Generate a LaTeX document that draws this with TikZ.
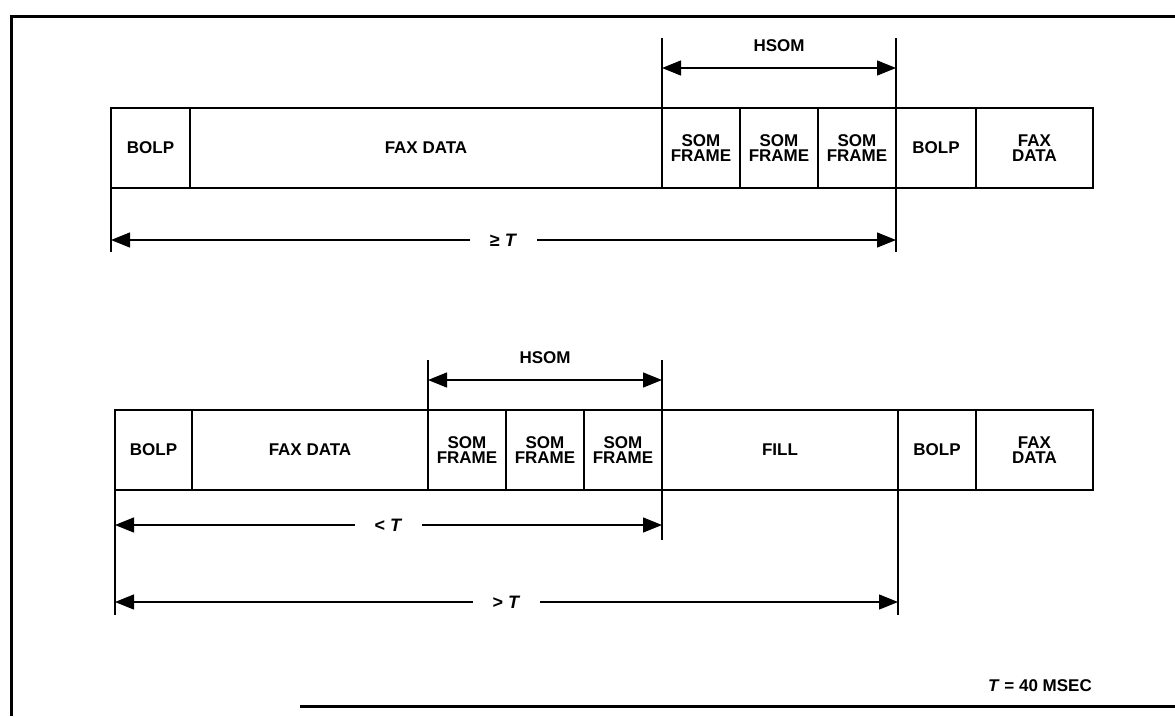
\documentclass[tikz,border=0pt]{standalone}
\usepackage{fontspec}
\setmainfont{Liberation Sans}
\usetikzlibrary{arrows.meta, positioning}
\tikzset{
  cell/.style={rectangle, draw, line width=1.4pt, minimum height=80pt,
               outer sep=0pt, inner sep=0pt, align=center,
               font=\fontsize{17}{15}\selectfont\bfseries},
  dimarr/.style={{Triangle[length=19pt,width=15pt]}-{Triangle[length=19pt,width=15pt]},
                 line width=1.3pt},
  tick/.style={line width=1.3pt},
  dimlbl/.style={fill=white, inner xsep=20pt, font=\fontsize{18}{18}\selectfont\bfseries},
  hdr/.style={font=\fontsize{17}{17}\selectfont\bfseries},
  frame/.style={line width=3pt},
}

\begin{document}
\begin{tikzpicture}[x=1pt, y=-1pt, node distance=0pt]

  \useasboundingbox (0,0) rectangle (1175,716);

  % frame of the scan
  \draw[frame] (1175,16) -- (11,16) -- (11,716);
  \draw[frame] (300,706) -- (1175,706);

  % --- upper sequence ---
  \node[cell, minimum width=79pt, anchor=north west] (bolp1) at (111,108) {BOLP};
  \node[cell, minimum width=472pt, right=of bolp1] (fax1) {FAX DATA};
  \node[cell, minimum width=78pt, right=of fax1] (som1a) {SOM\\FRAME};
  \node[cell, minimum width=78pt, right=of som1a] (som1b) {SOM\\FRAME};
  \node[cell, minimum width=78pt, right=of som1b] (som1c) {SOM\\FRAME};
  \node[cell, minimum width=80pt, right=of som1c] (bolp1r) {BOLP};
  \node[cell, minimum width=117pt, right=of bolp1r] (fax1r) {FAX\\DATA};

  \coordinate (t1l) at ([yshift=70pt]som1a.north west);
  \coordinate (t1r) at ([yshift=70pt]som1c.north east);
  \coordinate (b1l) at ([yshift=-64pt]bolp1.south west);
  \coordinate (b1r) at ([yshift=-64pt]som1c.south east);
  \coordinate (hs1l) at ([yshift=40pt]som1a.north west);
  \coordinate (hs1r) at ([yshift=40pt]som1c.north east);
  \coordinate (ge1l) at ([yshift=-52pt]bolp1.south west);
  \coordinate (ge1r) at ([yshift=-52pt]som1c.south east);

  \draw[tick] (som1a.north west) -- (t1l);
  \draw[tick] (t1r) -- (b1r);
  \draw[tick] (bolp1.south west) -- (b1l);
  \draw[dimarr] (hs1l) -- node[hdr, above=12pt] (hsom1) {HSOM} (hs1r);
  \draw[dimarr] (ge1l) -- node[dimlbl] (ge1) {≥ \textit{T}} (ge1r);

  % --- lower sequence ---
  \node[cell, minimum width=77pt, anchor=north west] (bolp2) at (115,410) {BOLP};
  \node[cell, minimum width=236pt, right=of bolp2] (fax2) {FAX DATA};
  \node[cell, minimum width=78pt, right=of fax2] (som2a) {SOM\\FRAME};
  \node[cell, minimum width=78pt, right=of som2a] (som2b) {SOM\\FRAME};
  \node[cell, minimum width=78pt, right=of som2b] (som2c) {SOM\\FRAME};
  \node[cell, minimum width=236pt, right=of som2c] (fill2) {FILL};
  \node[cell, minimum width=78pt, right=of fill2] (bolp2r) {BOLP};
  \node[cell, minimum width=117pt, right=of bolp2r] (fax2r) {FAX\\DATA};

  \coordinate (t2l) at ([yshift=50pt]som2a.north west);
  \coordinate (t2r) at ([yshift=50pt]som2c.north east);
  \coordinate (b2m) at ([yshift=-50pt]som2c.south east);
  \coordinate (b2l) at ([yshift=-125pt]bolp2.south west);
  \coordinate (b2r) at ([yshift=-125pt]fill2.south east);
  \coordinate (hs2l) at ([yshift=30pt]som2a.north west);
  \coordinate (hs2r) at ([yshift=30pt]som2c.north east);
  \coordinate (lt2l) at ([yshift=-35pt]bolp2.south west);
  \coordinate (lt2r) at ([yshift=-35pt]som2c.south east);
  \coordinate (gt2l) at ([yshift=-112pt]bolp2.south west);
  \coordinate (gt2r) at ([yshift=-112pt]fill2.south east);

  \draw[tick] (som2a.north west) -- (t2l);
  \draw[tick] (t2r) -- (b2m);
  \draw[tick] (bolp2.south west) -- (b2l);
  \draw[tick] (fill2.south east) -- (b2r);
  \draw[dimarr] (hs2l) -- node[hdr, above=12pt] (hsom2) {HSOM} (hs2r);
  \draw[dimarr] (lt2l) -- node[dimlbl] (lt2) {< \textit{T}} (lt2r);
  \draw[dimarr] (gt2l) -- node[dimlbl] (gt2) {> \textit{T}} (gt2r);

  \node[hdr] (tnote) at (1040,686) {\textit{T} = 40 MSEC};

\end{tikzpicture}
\end{document}
